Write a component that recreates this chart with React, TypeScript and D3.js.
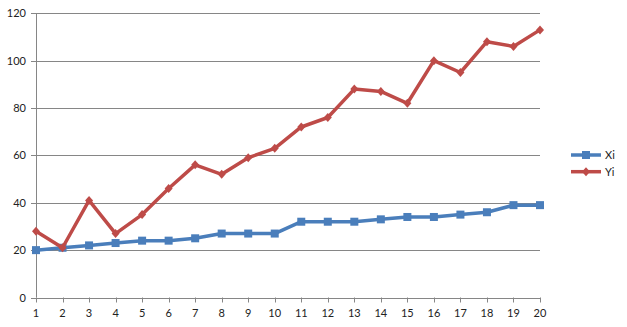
import React from "react";
import * as d3 from "d3";

const categories = ["1","2","3","4","5","6","7","8","9","10","11","12","13","14","15","16","17","18","19","20"];
const xiValues = [20, 21, 22, 23, 24, 24, 25, 27, 27, 27, 32, 32, 32, 33, 34, 34, 35, 36, 39, 39];
const yiValues = [28, 21, 41, 27, 35, 46, 56, 52, 59, 63, 72, 76, 88, 87, 82, 100, 95, 108, 106, 113];
const yTicks = [0, 20, 40, 60, 80, 100, 120];
const seriesNames = ["Xi", "Yi"];

const W = 627, H = 327;
const left = 36, right = 540, top = 13.3, bottom = 297.5;
const BLUE = "#4A7EBB";
const RED = "#BE4B48";
const GRID = "#868686";
const FONT = "Lato, 'Liberation Sans', sans-serif";

export default function App() {
  const x = d3.scalePoint<string>().domain(categories).range([left, right]);
  const y = d3.scaleLinear().domain([0, 120]).range([bottom, top]);
  const line = d3.line<number>().x((_, i) => x(categories[i])!).y((d) => y(d));

  const square = (cx: number, cy: number, key: string) => (
    <rect key={key} x={cx - 4} y={cy - 4} width={8} height={8} fill={BLUE} />
  );
  const diamond = (cx: number, cy: number, key: string) => (
    <path key={key} d={`M${cx},${cy - 4.5}L${cx + 4},${cy}L${cx},${cy + 4.5}L${cx - 4},${cy}Z`} fill={RED} />
  );

  return (
    <svg width={W} height={H} style={{ position: "absolute", left: 0, top: 0, background: "#fff" }}>
      {yTicks.map((t) => (
        <g key={"g" + t}>
          <line x1={left - 5} x2={right} y1={Math.round(y(t)) + 0.5} y2={Math.round(y(t)) + 0.5} stroke={GRID} strokeWidth={1} />
          <text x={26} y={y(t) + 4} textAnchor="end" fontFamily={FONT} fontSize={11} fill="#222">{t}</text>
        </g>
      ))}
      <line x1={left + 0.5} x2={left + 0.5} y1={top} y2={bottom} stroke={GRID} strokeWidth={1} />
      {categories.map((c) => (
        <g key={"x" + c}>
          <line x1={Math.round(x(c)!) + 0.5} x2={Math.round(x(c)!) + 0.5} y1={bottom} y2={bottom + 5} stroke={GRID} strokeWidth={1} />
          <text x={x(c)!} y={317} textAnchor="middle" fontFamily={FONT} fontSize={11} fill="#222">{c}</text>
        </g>
      ))}
      <path d={line(xiValues)!} fill="none" stroke={BLUE} strokeWidth={3.5} strokeLinejoin="round" />
      {xiValues.map((v, i) => square(x(categories[i])!, y(v), "s" + i))}
      <path d={line(yiValues)!} fill="none" stroke={RED} strokeWidth={3.5} strokeLinejoin="round" />
      {yiValues.map((v, i) => diamond(x(categories[i])!, y(v), "d" + i))}
      {/* legend */}
      <g>
        <line x1={571} x2={601} y1={155} y2={155} stroke={BLUE} strokeWidth={3.5} />
        {square(586, 155, "ls")}
        <text x={605} y={159} fontFamily={FONT} fontSize={11} fill="#222">{seriesNames[0]}</text>
        <line x1={571} x2={601} y1={171.7} y2={171.7} stroke={RED} strokeWidth={3.5} />
        {diamond(586, 171.7, "ld")}
        <text x={605} y={176} fontFamily={FONT} fontSize={11} fill="#222">{seriesNames[1]}</text>
      </g>
    </svg>
  );
}
